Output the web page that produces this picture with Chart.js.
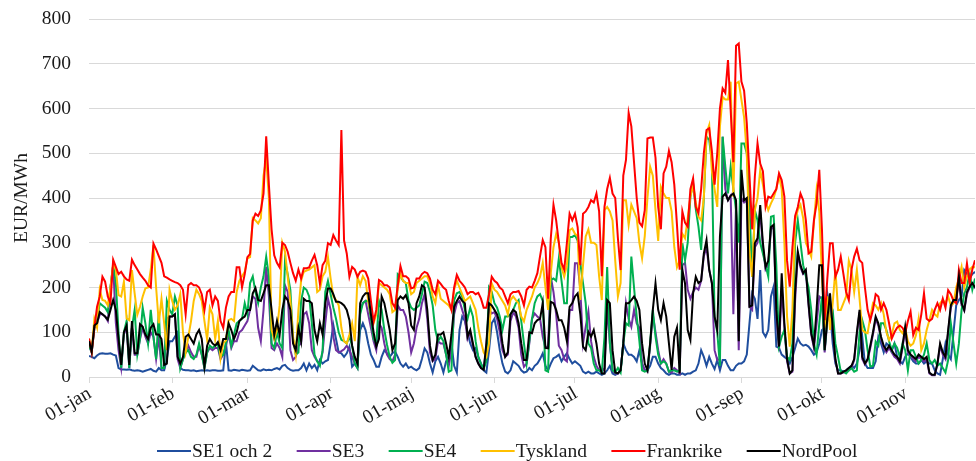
<!DOCTYPE html>
<html>
<head>
<meta charset="utf-8">
<script src="https://cdn.jsdelivr.net/npm/chart.js@4/dist/chart.umd.min.js"></script>
<style>
html,body{margin:0;padding:0;background:#fff;}
#wrap{width:976px;height:461px;position:relative;}
</style>
</head>
<body>
<div id="wrap"><canvas id="c"></canvas></div>
<script>
// Month tick labels and the day index (from 1 Jan) on which each month starts
const monthLabels = ['01-jan','01-feb','01-mar','01-apr','01-maj','01-jun','01-jul','01-aug','01-sep','01-okt','01-nov'];
const monthStartDays = [0,31,59,90,120,151,181,212,243,273,304];

const seriesNames = ['SE1 och 2','SE3','SE4','Tyskland','Frankrike','NordPool'];

// Daily prices EUR/MWh, 1 Jan .. 27 Nov
const se12 = [47,45,42,48,52,53,52,52,53,50,48,20,17,17,16,17,15,14,15,14,12,14,16,18,14,12,20,15,15,40,80,80,90,100,20,16,15,
15,14,15,13,14,15,14,15,14,15,15,14,14,15,78,15,14,16,15,14,16,15,14,15,25,20,15,14,17,15,16,15,18,20,17,25,27,20,16,14,15,15,
20,30,15,30,20,27,15,38,30,35,38,75,116,85,55,53,45,53,68,23,30,27,105,120,105,75,50,38,23,23,45,60,53,45,53,57,45,30,23,30,20,23,18,15,20,
40,64,55,30,10,35,45,30,10,35,45,75,25,10,105,135,125,100,75,60,65,45,30,15,10,60,120,130,100,60,30,12,8,15,35,30,25,15,10,12,20,
15,25,30,40,53,25,15,30,42,45,50,35,45,53,40,30,35,30,25,12,8,12,8,8,12,8,5,8,15,25,8,5,8,15,75,60,50,
50,45,35,60,30,15,15,25,45,45,30,20,15,8,5,8,8,5,5,8,5,8,8,12,15,30,60,45,25,45,30,18,38,15,38,38,25,15,15,25,
30,30,35,50,120,187,175,130,239,100,90,105,180,202,68,65,50,45,40,30,45,65,86,75,70,72,68,60,50,55,75,105,110,187,150,75,30,15,15,12,15,20,25,
20,30,60,90,30,20,20,20,35,90,75,55,75,70,60,75,45,35,30,45,53,45,35,30,30,38,30,35,30,30,15,8,5,40,75,50,40,100,160,172,180,239,230,220,230,235];

const se3 = [70,55,110,120,140,140,135,125,200,250,120,60,20,95,110,20,110,50,50,85,110,90,75,100,90,40,90,20,20,130,135,135,140,40,20,40,55,
70,55,45,45,70,50,20,55,65,60,65,65,40,50,70,95,65,80,80,100,105,115,125,150,180,175,110,80,150,246,180,65,60,75,65,45,205,190,60,38,45,70,
75,140,145,120,60,45,35,30,55,120,175,150,90,60,55,58,62,70,60,45,30,20,150,165,170,140,110,80,60,120,110,75,50,40,35,50,160,150,150,135,100,55,75,110,130,
165,185,130,55,35,40,80,75,75,50,25,60,140,165,170,150,130,85,100,70,45,30,20,16,70,150,142,145,130,100,60,45,50,125,145,135,110,50,23,30,75,
130,142,135,130,90,65,70,224,190,140,70,60,40,35,150,150,254,254,195,75,112,146,80,45,25,15,12,20,157,75,15,8,8,15,75,165,130,
112,150,120,110,30,15,12,70,140,100,60,30,40,30,12,10,20,15,8,250,255,195,175,190,200,195,215,270,290,240,210,60,38,40,537,420,395,405,140,390,
60,400,390,395,157,150,290,300,370,290,240,250,330,335,140,60,200,110,35,8,12,170,275,245,230,235,160,95,65,120,180,175,55,125,170,105,38,8,8,10,12,15,20,
38,95,145,40,28,38,65,95,130,115,85,65,55,65,55,45,40,30,65,105,55,45,40,35,45,40,35,40,8,4,4,28,70,50,40,100,155,170,170,220,160,148,185,200,205,198];

const se4 = [70,55,110,125,165,160,155,145,200,250,210,100,20,100,125,20,110,150,50,85,155,120,75,150,90,40,145,20,20,170,150,140,180,160,20,40,55,
60,45,40,50,75,50,20,55,70,65,70,72,45,50,75,105,70,95,120,125,130,165,140,210,225,190,165,200,225,269,225,75,65,100,75,65,260,230,195,85,50,55,
170,200,195,180,120,50,35,25,60,190,215,185,155,130,100,83,80,75,90,70,30,20,140,165,170,170,130,85,75,170,150,105,72,45,32,38,230,225,215,210,170,155,150,155,160,
185,213,210,190,160,105,80,90,80,50,12,15,172,187,190,180,150,130,155,135,80,45,30,18,35,200,190,165,155,135,105,135,135,140,150,165,172,125,75,30,80,
130,165,180,185,170,15,12,217,220,215,265,215,165,165,313,313,317,305,254,210,165,75,65,30,15,15,10,90,246,75,15,10,20,10,75,120,115,
269,200,135,80,15,12,15,75,150,90,50,30,35,30,12,15,15,12,15,299,261,300,403,433,375,336,284,400,537,530,480,135,100,25,537,470,410,470,420,373,
300,522,522,500,380,224,373,350,300,276,250,224,358,360,250,68,90,105,45,38,75,300,350,300,250,225,200,150,75,50,120,180,60,130,165,150,75,45,12,12,8,15,20,
12,15,100,127,105,60,23,25,79,70,120,120,105,80,60,75,65,45,75,60,15,60,60,45,30,38,50,75,38,30,38,25,30,20,10,38,120,75,30,75,150,187,200,232,195,220];

const tyskland = [85,60,130,110,195,172,170,160,200,254,240,183,180,213,131,127,239,187,139,157,180,198,200,240,295,200,120,175,120,60,195,170,150,160,185,100,55,
90,125,170,195,185,170,125,83,155,140,85,125,42,75,82,127,130,125,190,215,225,235,265,268,355,350,343,355,450,488,400,105,85,105,160,300,280,225,170,90,50,150,
215,235,238,240,245,250,190,195,225,235,268,220,180,172,160,110,80,75,95,120,80,224,205,225,215,170,140,120,140,210,205,200,195,185,145,150,200,230,215,210,210,185,190,210,215,
220,225,225,210,180,165,205,175,170,165,160,150,195,215,200,185,170,175,180,165,150,110,80,55,45,75,209,195,190,180,170,160,140,172,180,172,165,135,124,150,165,
180,200,210,224,255,200,150,232,290,320,300,245,224,250,328,332,320,315,172,250,314,330,300,300,295,225,172,373,380,370,350,260,180,210,395,395,340,
385,370,355,300,265,315,400,470,450,373,304,425,410,400,400,370,290,245,260,320,310,355,403,430,390,358,350,400,545,563,460,420,380,560,626,620,620,660,403,656,
660,620,580,500,280,224,373,400,463,430,395,373,388,400,420,450,420,300,135,68,150,350,373,385,355,300,285,269,345,418,370,224,110,180,105,165,240,150,150,165,180,260,240,
190,240,175,105,100,98,135,165,160,150,165,140,100,83,95,120,124,105,98,110,80,70,75,93,130,60,75,105,127,150,140,135,165,172,165,180,160,165,200,220,246,200,225,240,246,245];

const frankrike = [86,55,110,157,180,224,213,180,165,262,246,230,235,225,218,215,262,250,240,230,222,215,205,200,298,285,270,255,225,222,218,215,212,210,205,195,140,
205,210,205,205,200,185,150,190,195,160,180,170,125,110,155,180,190,190,245,245,200,230,268,275,350,365,360,372,410,538,430,330,272,255,245,300,295,280,255,232,215,240,
220,243,243,245,260,273,250,209,250,260,299,295,317,305,295,552,305,276,224,246,240,224,235,238,235,220,170,124,150,217,213,205,205,200,165,155,205,248,225,225,220,198,200,220,220,
230,235,232,220,195,185,215,208,200,195,170,150,200,228,215,208,200,185,190,190,185,188,175,155,155,185,224,215,210,200,195,180,165,185,190,190,192,180,160,195,202,
200,215,232,270,306,290,175,310,385,350,300,255,240,300,365,350,365,335,250,365,370,380,395,390,410,370,225,380,420,445,410,400,310,239,450,485,590,
560,480,400,345,337,373,533,535,535,490,380,330,455,470,505,480,430,340,240,370,345,336,420,444,380,366,420,500,552,556,505,430,500,600,645,635,708,596,480,740,
745,660,640,567,450,330,448,522,477,460,380,403,400,410,420,455,440,403,260,202,290,360,380,410,395,350,276,280,350,388,463,330,127,220,299,299,224,240,269,230,190,172,240,
269,287,261,255,200,150,127,150,185,180,150,165,150,120,86,100,110,115,110,98,125,146,94,110,105,140,187,130,125,130,150,165,150,175,155,194,185,170,165,239,210,210,254,210,240,261];

const nordpool = [80,57,115,120,145,140,135,128,150,172,150,85,27,100,115,27,125,53,53,118,112,95,85,110,118,95,95,85,27,30,135,135,140,45,30,45,90,
95,85,75,95,105,85,23,70,85,75,70,78,60,85,85,120,105,85,100,125,131,135,150,150,187,199,172,170,187,205,205,150,94,125,94,150,180,172,150,75,60,110,
80,175,170,170,165,105,80,120,95,165,198,198,185,168,168,165,160,150,127,70,45,30,165,180,187,187,140,100,68,85,180,165,135,105,60,75,172,180,175,183,165,115,105,165,180,
205,200,150,70,38,50,95,95,100,75,45,95,157,170,180,170,165,90,105,75,45,30,20,16,75,165,160,150,140,120,75,45,55,140,150,145,120,75,38,38,100,
98,120,127,130,165,65,64,168,165,150,127,127,110,80,157,165,180,187,140,68,60,101,90,105,75,30,8,8,172,165,60,10,8,15,75,165,165,
172,180,170,150,75,30,15,75,150,209,150,127,165,135,75,16,90,110,8,239,209,105,83,187,224,210,215,276,306,240,210,135,105,314,403,410,395,405,410,395,
80,463,395,400,157,160,299,310,384,300,246,260,335,340,150,68,232,120,40,8,15,190,280,250,232,240,165,98,70,150,250,250,60,130,187,110,40,8,8,12,15,20,25,
40,100,150,45,30,40,70,100,135,120,90,70,60,70,60,50,45,35,70,112,60,50,45,40,50,45,40,45,10,5,5,30,75,55,45,105,160,172,172,224,165,150,190,202,210,200];

const seriesValues = [se12, se3, se4, tyskland, frankrike, nordpool];
const seriesColors = ['#1f4e9e','#7030a0','#00b050','#ffc000','#ff0000','#000000'];

const FONT = "'Liberation Serif','Times New Roman',serif";
const FONT_SIZE = 19.5;
const TXT = '#1a1a1a';

const datasets = seriesNames.map((name, k) => ({
  label: name,
  data: seriesValues[k].map((v, i) => ({x: i, y: v})),
  borderColor: seriesColors[k],
  backgroundColor: seriesColors[k],
  borderWidth: 2,
  pointRadius: 0,
  pointHoverRadius: 0,
  tension: 0,
  fill: false,
  order: seriesNames.length - k
}));

const lastDay = se12.length - 1;

// Legend row under the chart: short line sample followed by the series name
const bottomLegend = {
  id: 'bottomLegend',
  afterDraw(chart){
    const ctx = chart.ctx;
    const ds = chart.data.datasets;
    ctx.save();
    ctx.font = FONT_SIZE + 'px ' + FONT;
    ctx.textBaseline = 'middle';
    ctx.textAlign = 'left';
    const y = 451;
    let x = 157;
    ds.forEach(d => {
      ctx.strokeStyle = d.borderColor;
      ctx.lineWidth = 2;
      ctx.beginPath();
      ctx.moveTo(x, y);
      ctx.lineTo(x + 34, y);
      ctx.stroke();
      ctx.fillStyle = TXT;
      ctx.fillText(d.label, x + 35, y + 1);
      x += 35 + ctx.measureText(d.label).width + 24.5;
    });
    ctx.restore();
  }
};

new Chart(document.getElementById('c'), {
  type: 'line',
  data: { datasets },
  plugins: [bottomLegend],
  options: {
    responsive: true,
    maintainAspectRatio: false,
    devicePixelRatio: 1,
    animation: false,
    events: [],
    layout: { padding: { left: 0, right: 1, top: 19, bottom: 0 } },
    plugins: {
      tooltip: { enabled: false },
      legend: { display: false }
    },
    scales: {
      x: {
        type: 'linear',
        min: 0,
        max: lastDay,
        afterBuildTicks: (axis) => { axis.ticks = monthStartDays.map(v => ({ value: v })); },
        afterFit: (s) => { s.height = 461 - 377; },
        ticks: {
          autoSkip: false,
          minRotation: 30,
          maxRotation: 30,
          padding: -1,
          labelOffset: 1,
          color: TXT,
          font: { family: FONT, size: FONT_SIZE },
          callback: (v) => { const i = monthStartDays.indexOf(v); return i >= 0 ? monthLabels[i] : ''; }
        },
        grid: { display: true, drawOnChartArea: false, drawTicks: true, tickLength: 6, color: '#d9d9d9', lineWidth: 1 },
        border: { display: true, color: '#d9d9d9', width: 1 }
      },
      y: {
        min: 0,
        max: 800,
        afterFit: (s) => { s.width = 89; },
        ticks: { stepSize: 50, padding: 0, color: TXT, font: { family: FONT, size: FONT_SIZE } },
        grid: { color: '#d9d9d9', lineWidth: 1, drawTicks: true, tickLength: 18, tickColor: 'rgba(0,0,0,0)' },
        border: { display: false },
        title: { display: true, text: 'EUR/MWh', color: TXT, font: { family: FONT, size: FONT_SIZE }, padding: { top: 10, bottom: 0 } }
      }
    }
  }
});
</script>
</body>
</html>
